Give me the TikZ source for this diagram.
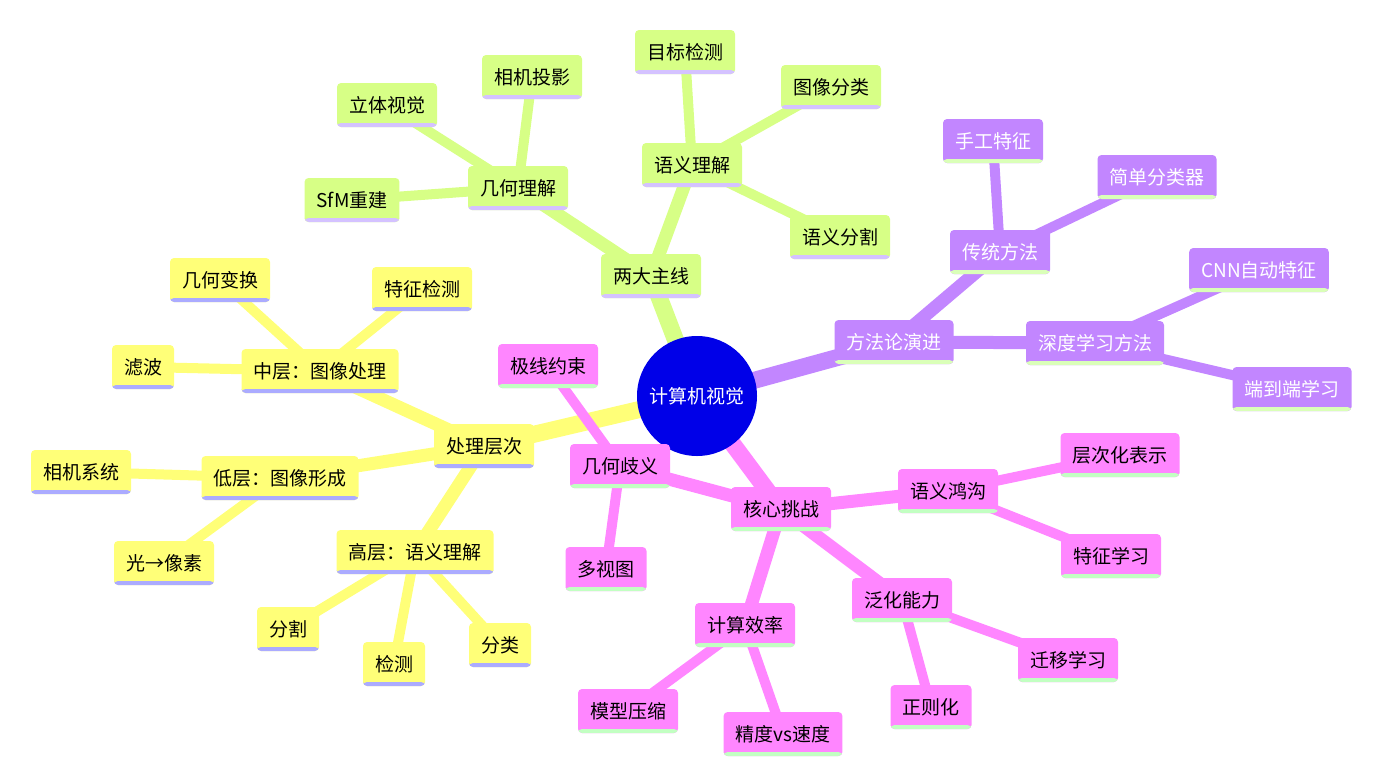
\documentclass[tikz,border=0pt]{standalone}
\usepackage{fontspec}
\newfontfamily\cjk{Noto Sans CJK SC}
\usetikzlibrary{backgrounds}

% 配色
\definecolor{rootblue}{HTML}{0000E8}
\definecolor{ylw}{HTML}{FFFF78}
\definecolor{ylwline}{HTML}{ABABFF}
\definecolor{grn}{HTML}{D7FF86}
\definecolor{grnline}{HTML}{D4C2FF}
\definecolor{prp}{HTML}{C286FF}
\definecolor{prpline}{HTML}{DAFFB8}
\definecolor{pnk}{HTML}{FF86FF}
\definecolor{pnkline}{HTML}{C2FFC2}

\tikzset{
  box/.style 2 args={rectangle, rounded corners=4pt, fill=#1, minimum height=44pt,
    inner xsep=12pt, inner ysep=0pt, font=\cjk\fontsize{19}{19}\selectfont,
    path picture={\fill[#2] (path picture bounding box.south west)
      rectangle ([yshift=4pt]path picture bounding box.south east);}},
  ybox/.style={box={ylw}{ylwline}, text=black},
  gbox/.style={box={grn}{grnline}, text=black},
  pbox/.style={box={prp}{prpline}, text=white},
  mbox/.style={box={pnk}{pnkline}, text=black},
  e1/.style={line width=17pt},
  e2/.style={line width=13pt},
  e3/.style={line width=10pt},
}

\begin{document}
\begin{tikzpicture}[x=1pt, y=-1pt]
    \useasboundingbox (0,0) rectangle (1398,774);

    % === 中心 ===
    \node[circle, fill=rootblue, minimum size=120pt, text=white,
          font=\cjk\fontsize{19}{19}\selectfont] (root) at (697,396) {计算机视觉};

    % === 处理层次（黄） ===
    \node[ybox] (proc) at (484,446) {处理层次};
    \node[ybox] (mid)  at (320,371) {中层：图像处理};
    \node[ybox] (low)  at (280,478) {低层：图像形成};
    \node[ybox] (high) at (415,552) {高层：语义理解};
    \node[ybox] (geotf)  at (220,280) {几何变换};
    \node[ybox] (featdt) at (422,289) {特征检测};
    \node[ybox] (filt)   at (143,367) {滤波};
    \node[ybox] (camsys) at (81,472)  {相机系统};
    \node[ybox] (light)  at (164,563) {光→像素};
    \node[ybox] (seg)    at (288,629) {分割};
    \node[ybox] (det)    at (394,664) {检测};
    \node[ybox] (cls)    at (500,645) {分类};

    % === 两大主线（绿） ===
    \node[gbox] (main) at (651,276) {两大主线};
    \node[gbox] (geo)  at (518,188) {几何理解};
    \node[gbox] (sem)  at (692,165) {语义理解};
    \node[gbox] (stereo) at (387,105) {立体视觉};
    \node[gbox] (proj)   at (532,77)  {相机投影};
    \node[gbox] (sfm)    at (352,200) {SfM重建};
    \node[gbox] (objdet) at (685,52)  {目标检测};
    \node[gbox] (imgcls) at (831,87)  {图像分类};
    \node[gbox] (semseg) at (840,237) {语义分割};

    % === 方法论演进（紫） ===
    \node[pbox] (meth) at (894,342)  {方法论演进};
    \node[pbox] (trad) at (1000,252) {传统方法};
    \node[pbox] (deep) at (1095,343) {深度学习方法};
    \node[pbox] (hand)   at (993,141)  {手工特征};
    \node[pbox] (simple) at (1157,177) {简单分类器};
    \node[pbox] (cnn)    at (1259,270) {CNN自动特征};
    \node[pbox] (e2e)    at (1292,389) {端到端学习};

    % === 核心挑战（粉） ===
    \node[mbox] (chal) at (781,509) {核心挑战};
    \node[mbox] (amb)  at (620,466) {几何歧义};
    \node[mbox] (gap)  at (948,491) {语义鸿沟};
    \node[mbox] (eff)  at (745,625) {计算效率};
    \node[mbox] (gen)  at (902,600) {泛化能力};
    \node[mbox] (epi)    at (548,366)  {极线约束};
    \node[mbox] (multi)  at (606,569)  {多视图};
    \node[mbox] (hier)   at (1120,455) {层次化表示};
    \node[mbox] (featl)  at (1111,556) {特征学习};
    \node[mbox] (comp)   at (628,711)  {模型压缩};
    \node[mbox] (acc)    at (783,734)  {精度vs速度};
    \node[mbox] (trans)  at (1068,660) {迁移学习};
    \node[mbox] (reg)    at (931,707)  {正则化};

    % === 连线（放在底层） ===
    \begin{scope}[on background layer]
    \draw[ylw, e1] (root.center) -- (proc.center);
    \draw[ylw, e2] (proc.center) -- (mid.center) (proc.center) -- (low.center) (proc.center) -- (high.center);
    \draw[ylw, e3] (mid.center) -- (geotf.center) (mid.center) -- (featdt.center) (mid.center) -- (filt.center);
    \draw[ylw, e3] (low.center) -- (camsys.center) (low.center) -- (light.center);
    \draw[ylw, e3] (high.center) -- (seg.center) (high.center) -- (det.center) (high.center) -- (cls.center);

    \draw[grn, e1] (root.center) -- (main.center);
    \draw[grn, e2] (main.center) -- (geo.center) (main.center) -- (sem.center);
    \draw[grn, e3] (geo.center) -- (stereo.center) (geo.center) -- (proj.center) (geo.center) -- (sfm.center);
    \draw[grn, e3] (sem.center) -- (objdet.center) (sem.center) -- (imgcls.center) (sem.center) -- (semseg.center);

    \draw[prp, e1] (root.center) -- (meth.center);
    \draw[prp, e2] (meth.center) -- (trad.center) (meth.center) -- (deep.center);
    \draw[prp, e3] (trad.center) -- (hand.center) (trad.center) -- (simple.center);
    \draw[prp, e3] (deep.center) -- (cnn.center) (deep.center) -- (e2e.center);

    \draw[pnk, e1] (root.center) -- (chal.center);
    \draw[pnk, e2] (chal.center) -- (amb.center) (chal.center) -- (gap.center)
                   (chal.center) -- (eff.center) (chal.center) -- (gen.center);
    \draw[pnk, e3] (amb.center) -- (epi.center) (amb.center) -- (multi.center);
    \draw[pnk, e3] (gap.center) -- (hier.center) (gap.center) -- (featl.center);
    \draw[pnk, e3] (eff.center) -- (comp.center) (eff.center) -- (acc.center);
    \draw[pnk, e3] (gen.center) -- (trans.center) (gen.center) -- (reg.center);
    \end{scope}
\end{tikzpicture}
\end{document}
